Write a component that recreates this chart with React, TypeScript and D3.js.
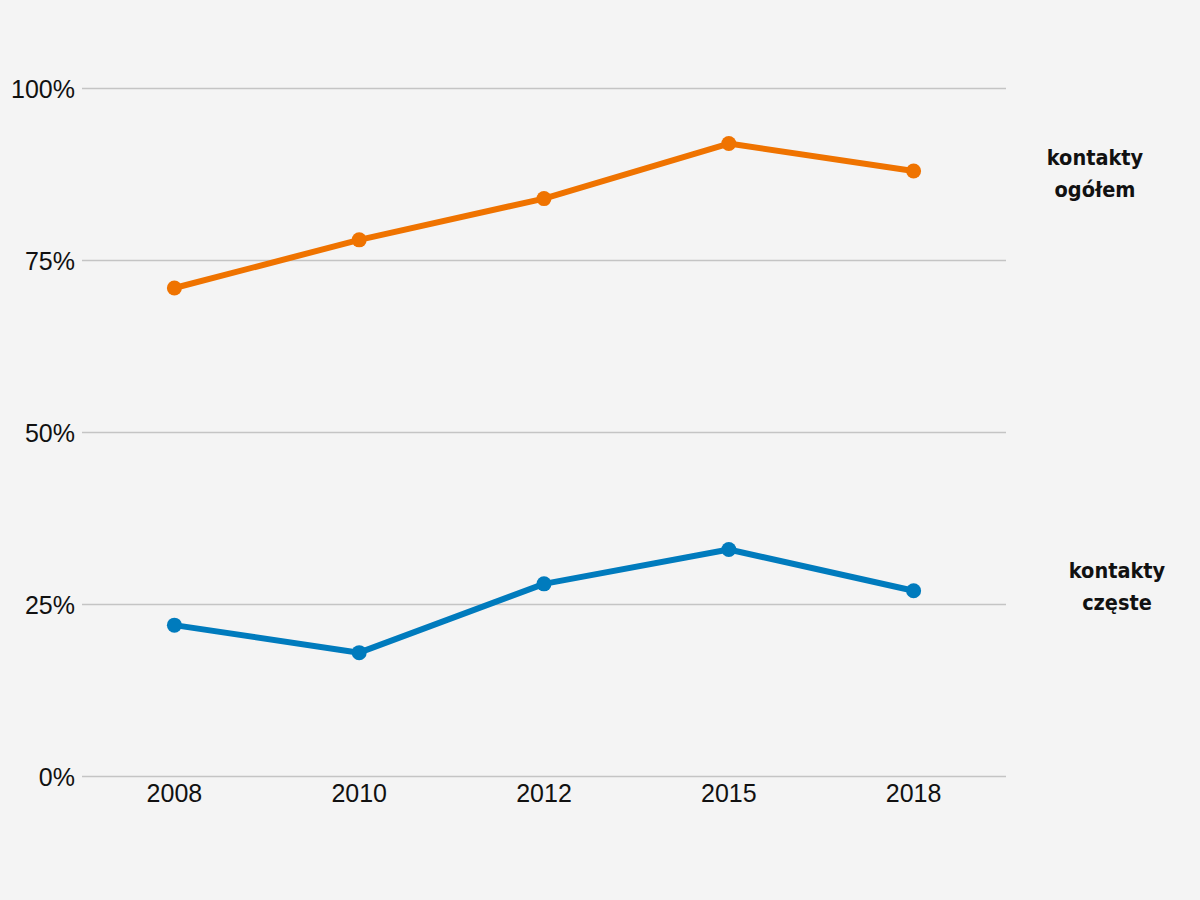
import React from "react";
import * as d3 from "d3";

const years = ["2008", "2010", "2012", "2015", "2018"];
const totalContacts = [71, 78, 84, 92, 88];
const frequentContacts = [22, 18, 28, 33, 27];
const yTicks = [0, 25, 50, 75, 100];
const seriesLabels = [
  { lines: ["kontakty", "ogółem"], color: "#ef7300" },
  { lines: ["kontakty", "częste"], color: "#007bbd" },
];

const W = 1200;
const H = 900;

export default function App() {
  const x = d3.scalePoint<string>().domain(years).range([82, 1006]).padding(0.5);
  const y = d3.scaleLinear().domain([0, 100]).range([776.5, 88.5]);
  const line = d3
    .line<number>()
    .x((_, i) => x(years[i]) as number)
    .y((d) => y(d));

  const series = [
    { values: totalContacts, color: seriesLabels[0].color, label: seriesLabels[0].lines, lx: 1095, ly: 157 },
    { values: frequentContacts, color: seriesLabels[1].color, label: seriesLabels[1].lines, lx: 1117, ly: 570 },
  ];

  return (
    <svg
      width={W}
      height={H}
      style={{ position: "absolute", left: 0, top: 0, background: "#f4f4f4" }}
    >
      <rect x={0} y={0} width={W} height={H} fill="#f4f4f4" />
      {yTicks.map((t) => (
        <g key={t}>
          <line x1={82} x2={1006} y1={y(t)} y2={y(t)} stroke="#c4c4c4" strokeWidth={1.5} />
          <text
            x={75}
            y={y(t)}
            dy="0.36em"
            textAnchor="end"
            fontFamily="'Liberation Sans', Arial, sans-serif"
            fontSize={25}
            fill="#111"
          >
            {t}%
          </text>
        </g>
      ))}
      {years.map((yr) => (
        <text
          key={yr}
          x={x(yr)}
          y={802}
          textAnchor="middle"
          fontFamily="'Liberation Sans', Arial, sans-serif"
          fontSize={25}
          fill="#111"
        >
          {yr}
        </text>
      ))}
      {series.map((s, si) => (
        <g key={si}>
          <path d={line(s.values) || ""} fill="none" stroke={s.color} strokeWidth={6} strokeLinejoin="round" />
          {s.values.map((v, i) => (
            <circle key={i} cx={x(years[i])} cy={y(v)} r={7.5} fill={s.color} />
          ))}
          {s.label.map((t, li) => (
            <text
              key={li}
              x={s.lx}
              y={s.ly + li * 32}
              dy="0.36em"
              textAnchor="middle"
              fontFamily="'DejaVu Sans Condensed', 'DejaVu Sans', sans-serif"
              fontWeight="bold"
              fontSize={21.5}
              fill="#111"
            >
              {t}
            </text>
          ))}
        </g>
      ))}
    </svg>
  );
}
